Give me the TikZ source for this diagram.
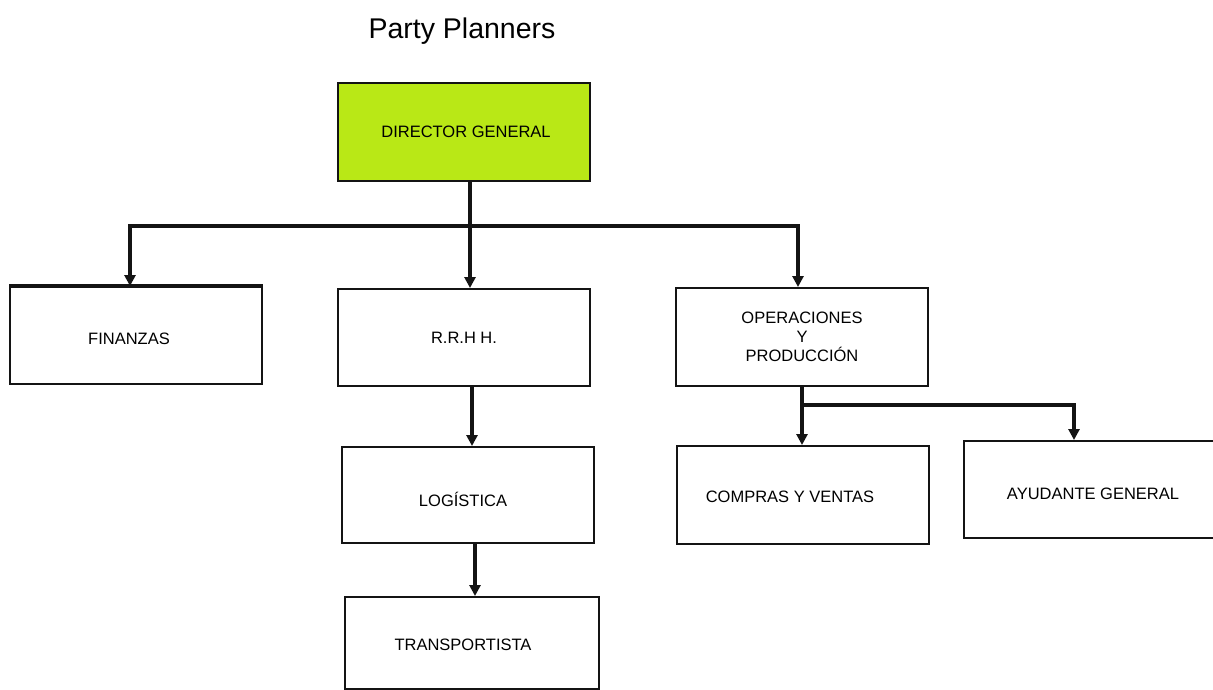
\documentclass[tikz,border=0pt]{standalone}
\usepackage{fontspec}
\setmainfont{Liberation Sans}
\usetikzlibrary{arrows.meta,calc}
\definecolor{headfill}{RGB}{185,232,22}
\definecolor{inkline}{RGB}{20,20,20}
\begin{document}
\begin{tikzpicture}[x=1pt,y=-1pt,
  box/.style={draw=inkline,line width=2pt,fill=white,minimum width=252pt,
    minimum height=97pt,inner sep=0pt,align=center,
    font=\fontsize{16.5}{19}\selectfont},
  link/.style={draw=inkline,line width=3.5pt,line join=miter},
  arr/.style={link,-{Triangle[width=11pt,length=11pt]}}]
\useasboundingbox (0,0) rectangle (1213,690);

% title
\node[font=\fontsize{28.5}{32}\selectfont] (title) at (462,31) {Party Planners};

% boxes
\node[box,fill=headfill,minimum height=98pt,label={[font=\fontsize{16.5}{19}\selectfont,xshift=2pt]center:DIRECTOR GENERAL}] (dir) at (464,132) {};
\node[box,label={[font=\fontsize{16.5}{19}\selectfont,xshift=-7pt,yshift=-3pt]center:FINANZAS}] (fin) at (136,335.5) {};
\node[box] (rrhh) at (464,337.5) {R.R.H H.};
\node[box,minimum height=98pt] (ope) at (802,337) {OPERACIONES\\Y\\PRODUCCIÓN};
\node[box,minimum height=96pt,label={[font=\fontsize{16.5}{19}\selectfont,xshift=-5pt,yshift=-4pt]center:LOGÍSTICA}] (log) at (468,495) {};
\node[box,minimum width=254pt,minimum height=92pt,label={[font=\fontsize{16.5}{19}\selectfont,xshift=-9pt,yshift=-2pt]center:TRANSPORTISTA}] (tra) at (472,643) {};
\node[box,minimum height=98pt,label={[font=\fontsize{16.5}{19}\selectfont,xshift=-13pt,yshift=-2pt]center:COMPRAS Y VENTAS}] (com) at (803,495) {};
\node[box,label={[font=\fontsize{16.5}{19}\selectfont,xshift=3pt,yshift=-4pt]center:AYUDANTE GENERAL}] (ayu) at (1090,489.5) {};

% heavier top edge on the finance box
\draw[inkline,line width=4pt] (fin.north west) -- (fin.north east);

% connectors from the director
\coordinate (bus) at (470,226);
\draw[arr] ([xshift=6pt]dir.south) -- (bus) -| ([xshift=-6pt]fin.north);
\draw[arr] (bus) -| ([xshift=-4pt]ope.north);
\draw[arr] (bus) -- ([xshift=6pt]rrhh.north);

% lower levels
\draw[arr] ([xshift=8pt]rrhh.south) -- ([xshift=8pt]rrhh.south |- log.north);
\draw[arr] ([xshift=7pt]log.south) -- ([xshift=7pt]log.south |- tra.north);
\coordinate (opbr) at (802,405);
\draw[arr] (ope.south) -- (ope.south |- com.north);
\draw[arr] (opbr) -| ([xshift=-16pt]ayu.north);
\end{tikzpicture}
\end{document}
